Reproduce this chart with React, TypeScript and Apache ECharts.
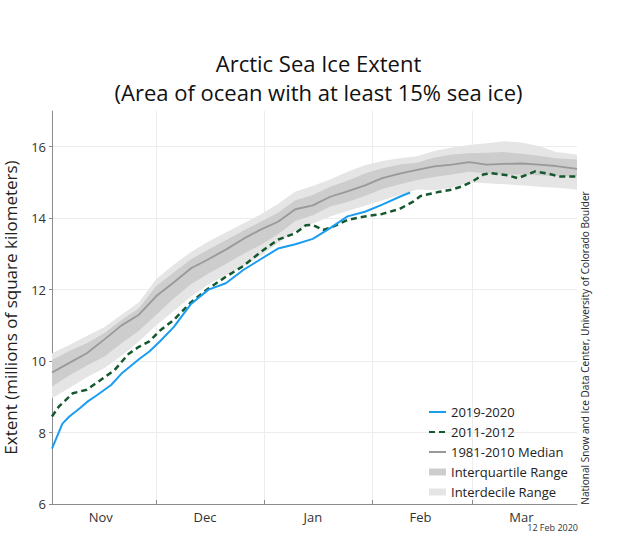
import React, { useEffect, useRef } from 'react';
import * as echarts from 'echarts';

// Days since 1 November (Nov 1 = 0, Mar 31 = 151)
const monthNames = ['Nov', 'Dec', 'Jan', 'Feb', 'Mar'];
const monthLabelDays = [14, 44, 75, 106, 135];
const monthStartDays = [30, 61, 92, 121];

// 1981-2010 statistics
const bandDays = [0, 5, 10, 15, 20, 25, 30, 35, 40, 45, 50, 55, 60, 65, 70, 75, 80, 85, 90, 95, 100, 105, 110, 115, 120, 125, 130, 135, 140, 145, 151];
const median = [9.68, 9.95, 10.22, 10.6, 11.0, 11.3, 11.82, 12.2, 12.6, 12.85, 13.12, 13.42, 13.68, 13.9, 14.25, 14.36, 14.6, 14.75, 14.92, 15.12, 15.25, 15.35, 15.45, 15.5, 15.57, 15.5, 15.52, 15.53, 15.5, 15.46, 15.38];
const idrHigh = [10.22, 10.45, 10.7, 10.95, 11.3, 11.65, 12.3, 12.7, 13.05, 13.35, 13.6, 13.85, 14.1, 14.4, 14.75, 14.9, 15.08, 15.3, 15.48, 15.6, 15.68, 15.73, 15.88, 15.98, 16.05, 16.1, 16.15, 16.12, 16.02, 15.85, 15.78];
const iqrHigh = [10.03, 10.28, 10.5, 10.78, 11.15, 11.48, 12.1, 12.48, 12.85, 13.12, 13.38, 13.65, 13.9, 14.15, 14.5, 14.65, 14.88, 15.05, 15.25, 15.4, 15.5, 15.55, 15.7, 15.78, 15.82, 15.83, 15.85, 15.8, 15.75, 15.68, 15.64];
const iqrLow = [9.29, 9.6, 9.88, 10.12, 10.5, 10.85, 11.3, 11.75, 12.15, 12.45, 12.72, 13.0, 13.25, 13.55, 13.92, 14.08, 14.33, 14.45, 14.62, 14.82, 14.95, 15.07, 15.15, 15.22, 15.3, 15.25, 15.22, 15.22, 15.2, 15.18, 15.17];
const idrLow = [8.96, 9.25, 9.55, 9.8, 10.15, 10.55, 11.0, 11.4, 11.8, 12.15, 12.4, 12.65, 12.95, 13.3, 13.65, 13.85, 14.05, 14.2, 14.35, 14.5, 14.65, 14.8, 14.78, 14.85, 15.0, 14.98, 14.95, 14.92, 14.88, 14.85, 14.8];

// 2019-2020 season
const days2019 = [0, 3, 5, 8, 10, 13, 17, 20, 25, 28, 31, 35, 40, 45, 50, 55, 60, 65, 70, 75, 80, 85, 90, 95, 100, 103];
const ext2019 = [7.55, 8.25, 8.45, 8.68, 8.85, 9.05, 9.33, 9.65, 10.05, 10.27, 10.55, 10.95, 11.6, 12.0, 12.18, 12.55, 12.85, 13.15, 13.27, 13.42, 13.72, 14.05, 14.18, 14.38, 14.6, 14.72];

// 2011-2012 season
const days2011 = [0, 2, 6, 10, 14, 18, 22, 25, 28, 31, 35, 40, 45, 50, 55, 60, 65, 70, 73, 75, 78, 81, 85, 90, 95, 100, 104, 106, 111, 115, 118, 121, 124, 126, 131, 134, 139, 142, 146, 151];
const ext2011 = [8.45, 8.73, 9.1, 9.2, 9.47, 9.75, 10.2, 10.4, 10.55, 10.85, 11.15, 11.65, 12.03, 12.36, 12.66, 13.05, 13.4, 13.58, 13.8, 13.81, 13.67, 13.77, 13.95, 14.05, 14.12, 14.26, 14.47, 14.62, 14.73, 14.8, 14.89, 15.03, 15.22, 15.26, 15.2, 15.12, 15.31, 15.26, 15.17, 15.17];

const FONT = "'Open Sans', 'Noto Sans', sans-serif";

function bandRenderer(color: string) {
  return (params: any, api: any) => {
    if (params.dataIndexInside !== 0) return null;
    const n = params.dataInsideLength;
    const top: number[][] = [];
    const bottom: number[][] = [];
    for (let j = 0; j < n; j++) {
      top.push(api.coord([api.value(0, j), api.value(2, j)]));
      bottom.push(api.coord([api.value(0, j), api.value(1, j)]));
    }
    return {
      type: 'polygon',
      shape: { points: top.concat(bottom.reverse()) },
      style: { fill: color },
      silent: true,
    };
  };
}

export default function App() {
  const ref = useRef<HTMLDivElement>(null);
  useEffect(() => {
    const chart = echarts.init(ref.current!, null, { renderer: 'svg' });
    const idrColor = '#e5e5e5';
    const iqrColor = '#cdcdcd';
    const hideSymbol = { opacity: 0 };
    chart.setOption({
      animation: false,
      backgroundColor: '#ffffff',
      title: {
        text: 'Arctic Sea Ice Extent\n(Area of ocean with at least 15% sea ice)',
        left: 313.5,
        top: 43,
        textAlign: 'center',
        textStyle: { fontFamily: FONT, fontSize: 22, fontWeight: 'normal', color: '#111', lineHeight: 29 },
      },
      grid: { left: 52, right: 43, top: 111, bottom: 32, containLabel: false, outerBoundsMode: 'none' },
      legend: {
        orient: 'vertical',
        left: 423,
        top: 400,
        itemWidth: 17,
        itemHeight: 7,
        itemGap: 6,
        textStyle: { fontFamily: FONT, fontSize: 13, color: '#222', lineHeight: 14 },
        data: [
          { name: '2019-2020', itemStyle: hideSymbol },
          { name: '2011-2012', itemStyle: hideSymbol },
          { name: '1981-2010 Median', itemStyle: hideSymbol },
          { name: 'Interquartile Range', icon: 'rect', itemStyle: { color: iqrColor } },
          { name: 'Interdecile Range', icon: 'rect', itemStyle: { color: idrColor } },
        ],
      },
      xAxis: {
        type: 'value',
        min: 0,
        max: 151,
        axisLine: { show: true, lineStyle: { color: '#8c8c8c', width: 1 } },
        axisTick: { show: true, inside: true, length: 4, customValues: monthStartDays, lineStyle: { color: '#8c8c8c' } },
        splitLine: { show: true, lineStyle: { color: '#ececec', width: 1 } },
        axisLabel: {
          customValues: monthLabelDays,
          margin: 6,
          fontFamily: FONT,
          fontSize: 13,
          color: '#333',
          formatter: (v: number) => {
            const i = monthLabelDays.indexOf(Math.round(v));
            return i >= 0 ? monthNames[i] : '';
          },
        },
      },
      yAxis: {
        type: 'value',
        min: 6,
        max: 17,
        interval: 2,
        name: 'Extent (millions of square kilometers)',
        nameLocation: 'middle',
        nameGap: 33,
        nameTextStyle: { fontFamily: FONT, fontSize: 17, color: '#222', lineHeight: 17 },
        axisLine: { show: true, lineStyle: { color: '#8c8c8c', width: 1 } },
        axisTick: { show: true, length: 3, lineStyle: { color: '#8c8c8c' } },
        splitLine: { show: true, showMaxLine: false, lineStyle: { color: '#ececec', width: 1 } },
        axisLabel: { showMaxLabel: false, margin: 6, fontFamily: FONT, fontSize: 13, color: '#333' },
      },
      series: [
        {
          name: 'Interdecile Range',
          type: 'custom',
          renderItem: bandRenderer(idrColor),
          itemStyle: { color: idrColor },
          encode: { x: 0, y: [1, 2] },
          data: bandDays.map((d, i) => [d, idrLow[i], idrHigh[i]]),
          z: 1,
          silent: true,
        },
        {
          name: 'Interquartile Range',
          type: 'custom',
          renderItem: bandRenderer(iqrColor),
          itemStyle: { color: iqrColor },
          encode: { x: 0, y: [1, 2] },
          data: bandDays.map((d, i) => [d, iqrLow[i], iqrHigh[i]]),
          z: 2,
          silent: true,
        },
        {
          name: '1981-2010 Median',
          type: 'line',
          symbol: 'none',
          showSymbol: false,
          data: bandDays.map((d, i) => [d, median[i]]),
          lineStyle: { color: '#999999', width: 1.8 },
          itemStyle: { color: '#999999' },
          z: 3,
          silent: true,
        },
        {
          name: '2011-2012',
          type: 'line',
          symbol: 'none',
          showSymbol: false,
          data: days2011.map((d, i) => [d, ext2011[i]]),
          lineStyle: { color: '#14582e', width: 2.5, type: [6, 4] },
          itemStyle: { color: '#14582e' },
          z: 4,
          silent: true,
        },
        {
          name: '2019-2020',
          type: 'line',
          symbol: 'none',
          showSymbol: false,
          data: days2019.map((d, i) => [d, ext2019[i]]),
          lineStyle: { color: '#1a9df0', width: 2 },
          itemStyle: { color: '#1a9df0' },
          z: 5,
          silent: true,
        },
      ],
      graphic: [
        {
          type: 'text',
          x: 585,
          y: 348,
          rotation: Math.PI / 2,
          style: {
            text: 'National Snow and Ice Data Center, University of Colorado Boulder',
            fontFamily: FONT,
            fontSize: 10.1,
            fill: '#222',
            align: 'center',
            verticalAlign: 'middle',
          },
        },
        {
          type: 'text',
          x: 578,
          y: 527,
          style: {
            text: '12 Feb 2020',
            fontFamily: FONT,
            fontSize: 9,
            fill: '#333',
            align: 'right',
            verticalAlign: 'middle',
          },
        },
      ],
    });
    return () => chart.dispose();
  }, []);
  return <div ref={ref} style={{ position: 'fixed', left: 0, top: 0, width: 620, height: 536 }} />;
}
